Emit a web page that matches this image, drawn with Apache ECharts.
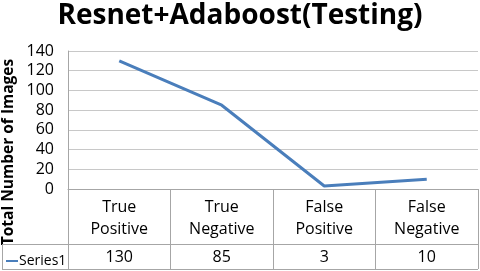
<!DOCTYPE html>
<html>
<head>
<meta charset="utf-8">
<script src="https://cdn.jsdelivr.net/npm/echarts@6/dist/echarts.min.js"></script>
<style>
html,body{margin:0;padding:0;background:#fff;}
#chart{width:480px;height:271px;}
</style>
</head>
<body>
<div id="chart"></div>
<script>
var titleText = 'Resnet+Adaboost(Testing)';
var yAxisTitle = 'Total Number of Images';
var seriesName = 'Series1';
var categories = ['True\nPositive', 'True\nNegative', 'False\nPositive', 'False\nNegative'];
var seriesValues = [130, 85, 3, 10];
var yTicks = [0, 20, 40, 60, 80, 100, 120, 140];

var FONT = 'Open Sans';
var BORDER = '#a6a6a6';
var chart = echarts.init(document.getElementById('chart'), null, {renderer: 'canvas'});

var gridLeft = 68, gridRight = 2, gridTop = 51, gridBottom = 82;
var W = 480, H = 271;
var axisY = H - gridBottom;      // 189
var rowY = axisY + 55;           // 244
var bottomY = axisY + 80;        // 269

chart.setOption({
  animation: false,
  backgroundColor: '#fff',
  title: {
    text: titleText,
    left: 'center',
    top: -3,
    textStyle: {fontFamily: FONT, fontWeight: 'bold', fontSize: 28, color: '#000'}
  },
  legend: {
    data: [seriesName],
    left: 1,
    top: rowY + 5,
    icon: 'rect',
    itemWidth: 12,
    itemHeight: 2,
    itemGap: 2,
    textStyle: {fontFamily: FONT, fontSize: 14, color: '#000', padding: [0, 0, 0, -4]}
  },
  grid: {left: gridLeft, right: gridRight, top: gridTop, bottom: gridBottom, containLabel: false},
  xAxis: [{
    type: 'category',
    data: categories,
    boundaryGap: true,
    axisLine: {show: true, lineStyle: {color: BORDER, width: 1}},
    axisTick: {show: true, length: 80, lineStyle: {color: BORDER, width: 1}},
    axisLabel: {margin: 7, fontFamily: FONT, fontSize: 16, lineHeight: 22, color: '#000', interval: 0}
  }, {
    type: 'category',
    data: categories,
    position: 'bottom',
    offset: 55,
    boundaryGap: true,
    axisLine: {show: false},
    axisTick: {show: false},
    axisLabel: {
      margin: 5, fontFamily: FONT, fontSize: 16, color: '#000', interval: 0,
      formatter: function (v, i) { return String(seriesValues[i]); }
    }
  }],
  yAxis: {
    type: 'value',
    min: yTicks[0],
    max: yTicks[yTicks.length - 1],
    interval: yTicks[1] - yTicks[0],
    axisLine: {show: true, lineStyle: {color: BORDER}},
    axisTick: {show: false},
    axisLabel: {margin: 14, fontFamily: FONT, fontSize: 16, color: '#000'},
    splitLine: {show: true, lineStyle: {color: '#c8c8c8', width: 1}}
  },
  graphic: [
    {type: 'text', rotation: Math.PI / 2, x: 1, y: 152,
     style: {text: yAxisTitle, fontFamily: FONT, fontWeight: 'bold', fontSize: 15.5, fill: '#000',
             align: 'center', verticalAlign: 'top'}},
    {type: 'line', shape: {x1: 2, y1: rowY + 0.5, x2: W - gridRight, y2: rowY + 0.5},
     style: {stroke: BORDER, lineWidth: 1}},
    {type: 'line', shape: {x1: 2, y1: bottomY + 0.5, x2: W - gridRight, y2: bottomY + 0.5},
     style: {stroke: BORDER, lineWidth: 1}},
    {type: 'line', shape: {x1: 2.5, y1: rowY, x2: 2.5, y2: bottomY + 1},
     style: {stroke: BORDER, lineWidth: 1}}
  ],
  series: [{
    name: seriesName,
    type: 'line',
    data: seriesValues,
    symbol: 'none',
    color: '#4a7ebb',
    lineStyle: {width: 3, color: '#4a7ebb'}
  }]
});
</script>
</body>
</html>
